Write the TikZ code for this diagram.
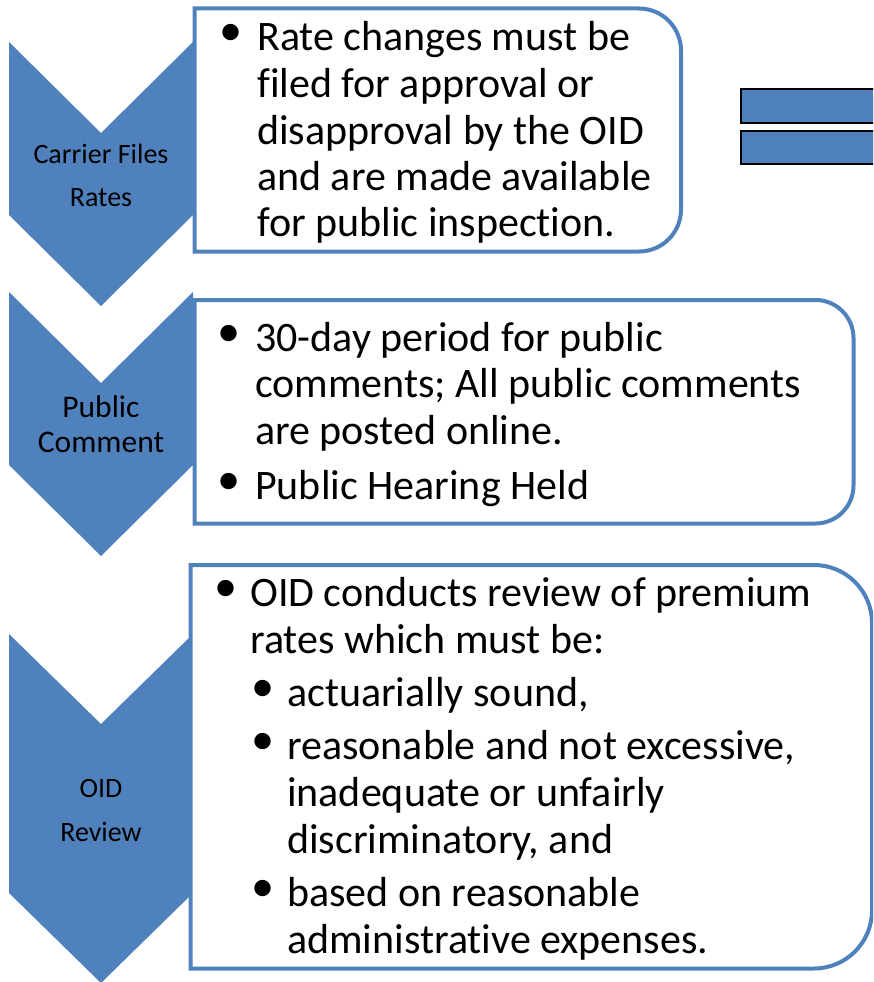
\documentclass[tikz,border=0pt]{standalone}
\usepackage{fontspec}
\setmainfont{Carlito}[Ligatures={NoCommon,NoDiscretionary}]
\definecolor{accent}{HTML}{4F81BD}

% panel with square left corners and rounded right corners
% #1 style, (#2,#3) top-left, (#4,#5) bottom-right, #6 corner radius
\newcommand{\roundright}[6]{%
  \draw[#1] (#2,#3) -- ({#4-#6},#3)
    .. controls ({#4-0.448*#6},#3) and (#4,{#3+0.448*#6}) .. (#4,{#3+#6})
    -- (#4,{#5-#6})
    .. controls (#4,{#5-0.448*#6}) and ({#4-0.448*#6},#5) .. ({#4-#6},#5)
    -- (#2,#5) -- cycle;}

% downward chevron: left x, right x, top y, bottom of straight sides, notch depth
\newcommand{\chevron}[5]{%
  \fill[chev] (#1,#3) -- ({(#1+#2)/2},{#3+#5}) -- (#2,#3) -- (#2,#4)
    -- ({(#1+#2)/2},{#4+#5}) -- (#1,#4) -- cycle;}

% bullet set in a box of the given width
\newcommand{\bl}[1]{\makebox[#1][l]{\hspace{-1pt}\raisebox{5pt}{\scalebox{1.1}{\textbullet}}}}

\begin{document}
\begin{tikzpicture}[x=1pt,y=-1pt,
  chev/.style={fill=accent},
  panel/.style={draw=accent,line width=4pt,fill=white},
  bars/.style={fill=accent,draw=black,line width=1.5pt},
  lbl/.style={inner sep=0pt,anchor=base},
  body/.style={inner sep=0pt,anchor=base west}]
\useasboundingbox (0,0) rectangle (873,982);
\clip (0,0) rectangle (873,982);

% step chevrons
\chevron{9}{193}{42}{215}{91}
\chevron{9}{193}{292}{465}{91}
\chevron{9}{193}{634}{893}{90}

% step labels
\node[lbl] (lab1) at (101,163) {\parbox[t]{180pt}{\centering\fontsize{28}{43}\selectfont Carrier Files\\Rates}};
\node[lbl] (lab2) at (101,417) {\parbox[t]{180pt}{\centering\fontsize{31.5}{35}\selectfont Public\\Comment}};
\node[lbl] (lab3) at (101,797) {\parbox[t]{180pt}{\centering\fontsize{28}{44}\selectfont OID\\Review}};

% detail panels
\roundright{panel}{194.5}{8.5}{681}{251.5}{42}
\roundright{panel}{194.5}{300}{853.5}{523.5}{38}
\roundright{panel}{190.5}{565}{872}{968.5}{58}

% equals sign
\draw[bars] (741,89) rectangle (910,123);
\draw[bars] (741,131) rectangle (910,164);

% panel texts
\node[body] (txt1) at (220,51) {\parbox[t]{640pt}{\fontsize{42}{46.5}\selectfont
  \hangindent=37pt\hangafter=1
  \bl{37pt}Rate changes must be\\
  filed for approval or\\
  disapproval by the OID\\
  and are made available\\
  for public inspection.}};

\node[body] (txt2) at (218,351) {\parbox[t]{640pt}{\fontsize{42}{46.5}\selectfont
  \hangindent=37pt\hangafter=1
  \bl{37pt}30-day period for public\\
  comments; All public comments\\
  are posted online.\par\vspace{8.5pt}
  \hangindent=37pt\hangafter=1
  \bl{37pt}Public Hearing Held}};

\node[body] (txt3) at (215,606) {\parbox[t]{640pt}{\fontsize{42}{47}\selectfont
  \hangindent=35pt\hangafter=1
  \bl{35pt}OID conducts review of premium\\
  rates which must be:\par\vspace{6pt}
  \leftskip=37pt\hangindent=35pt\hangafter=1
  \bl{35pt}actuarially sound,\par\vspace{6pt}
  \hangindent=35pt\hangafter=1
  \bl{35pt}reasonable and not excessive,\\
  inadequate or unfairly\\
  discriminatory, and\par\vspace{6pt}
  \hangindent=35pt\hangafter=1
  \bl{35pt}based on reasonable\\
  administrative expenses.}};
\end{tikzpicture}
\end{document}
